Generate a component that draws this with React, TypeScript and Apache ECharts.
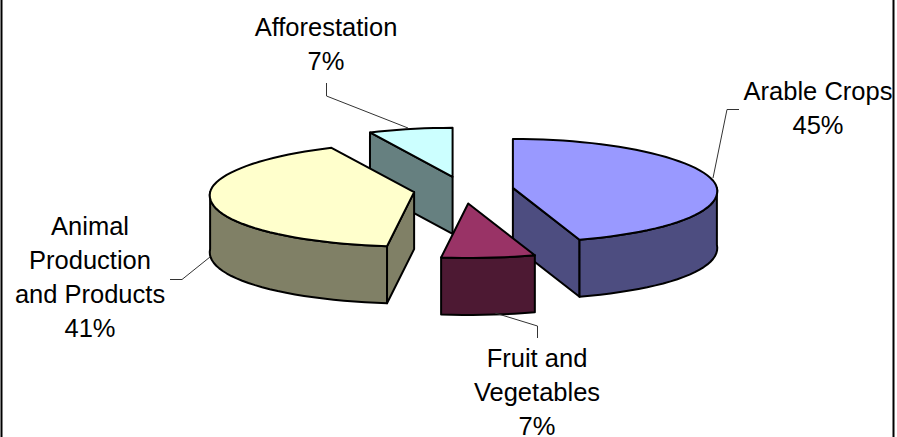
import React, { useEffect, useRef } from "react";
import * as echarts from "echarts";

const categories = ["Arable Crops", "Fruit and Vegetables", "Animal Production and Products", "Afforestation"];
const values = [45, 7, 41, 7];
const labelLines = [["Arable Crops", "45%"], ["Fruit and", "Vegetables", "7%"], ["Animal", "Production", "and Products", "41%"], ["Afforestation", "7%"]];
const topColors = ["#9999FF", "#993366", "#FFFFCC", "#CCFFFF"];
const sideColors = ["#4D4D80", "#4D1933", "#808066", "#668080"];
const drawOrder = [3, 2, 0, 1];

// layout
const CX = 463.5, CY = 190, RX = 204, RY_BACK = 49, RY_FRONT = 54.5, DEPTH = 57, EXPLODE = 50, YK = 0.27, PERSP = 0.06;
const labelPos = [[818, 74], [537, 341], [90, 209], [326, 10]];
const leaders = [
  [[739, 109.5], [727, 109.5], [713, 178]],
  [[537.5, 338], [537.5, 326], [495, 313]],
  [[170, 279.5], [182, 279.5], [210, 257]],
  [[326.5, 83], [326.5, 96], [408, 128]],
];

const rad = (d: number) => (d * Math.PI) / 180;

function sliceShapes(i: number) {
  const total = values.reduce((a, b) => a + b, 0);
  const start = (values.slice(0, i).reduce((a, b) => a + b, 0) / total) * 360;
  const end = start + (values[i] / total) * 360;
  const mid = (start + end) / 2;
  const ax = CX + EXPLODE * Math.sin(rad(mid));
  const ay = CY - EXPLODE * YK * Math.cos(rad(mid));
  const pt = (a: number, dz = 0) => {
    const c = Math.cos(rad(a));
    const dy = c > 0 ? -RY_BACK * c : -RY_FRONT * c;
    const s = 1 + (PERSP * dy) / RY_FRONT;
    return [ax + RX * Math.sin(rad(a)) * s, ay + dy + dz];
  };
  const arc = (a0: number, a1: number, dz = 0) => {
    const n = Math.max(2, Math.ceil(Math.abs(a1 - a0) / 3));
    const out: number[][] = [];
    for (let k = 0; k <= n; k++) out.push(pt(a0 + ((a1 - a0) * k) / n, dz));
    return out;
  };
  const style = (fill: string) => ({ fill, stroke: "#000", lineWidth: 2, lineJoin: "round" });
  const children: any[] = [];
  const poly = (points: number[][], fill: string) => children.push({ type: "polygon", shape: { points }, style: style(fill) });
  const side = sideColors[i];
  if (start > 180 && start < 360) poly([[ax, ay], pt(start), pt(start, DEPTH), [ax, ay + DEPTH]], side);
  if (end > 0 && end < 180) poly([[ax, ay], pt(end), pt(end, DEPTH), [ax, ay + DEPTH]], side);
  const w0 = Math.max(start, 90), w1 = Math.min(end, 270);
  if (w1 > w0) poly([...arc(w0, w1), ...arc(w1, w0, DEPTH)], side);
  poly([[ax, ay], ...arc(start, end)], topColors[i]);
  return children;
}

const renderItem = (params: any) => {
  const i = drawOrder[params.dataIndex];
  return { type: "group", children: sliceShapes(i) };
};

export default function App() {
  const ref = useRef<HTMLDivElement>(null);
  useEffect(() => {
    const chart = echarts.init(ref.current!, null, { renderer: "svg" });
    const leaderEls = leaders.map((points) => ({
      type: "polyline",
      shape: { points },
      style: { stroke: "#333", lineWidth: 1, fill: "none" },
      z: 5,
    }));
    const textEls = labelLines.map((lines, i) => ({
      type: "text",
      x: labelPos[i][0],
      y: labelPos[i][1],
      z: 6,
      style: {
        text: lines.join("\n"),
        fontFamily: "'Liberation Sans', Arial, sans-serif",
        fontSize: 25.5,
        lineHeight: 34,
        fill: "#000",
        align: "center",
        verticalAlign: "top",
      },
    }));
    chart.setOption({
      animation: false,
      backgroundColor: "#fff",
      graphic: [
        { type: "line", shape: { x1: 1.5, y1: 0, x2: 1.5, y2: 437 }, style: { stroke: "#000", lineWidth: 2 } },
        { type: "line", shape: { x1: 893.5, y1: 0, x2: 893.5, y2: 437 }, style: { stroke: "#000", lineWidth: 2 } },
        ...leaderEls,
        ...textEls,
      ],
      series: [
        {
          type: "custom",
          coordinateSystem: "none",
          renderItem,
          data: drawOrder.map((i) => ({ name: categories[i], value: values[i] })),
          silent: true,
        },
      ],
    });
    return () => chart.dispose();
  }, []);
  return (
    <div
      ref={ref}
      style={{ position: "fixed", left: 0, top: 0, width: 897, height: 437 }}
    />
  );
}
